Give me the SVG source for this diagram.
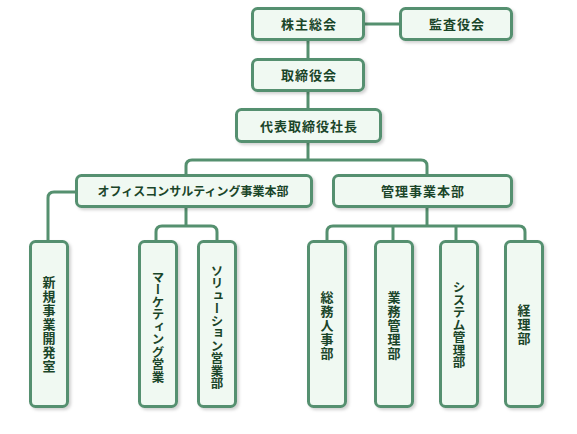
<svg xmlns="http://www.w3.org/2000/svg" width="577" height="434" viewBox="0 0 577 434">
<defs>
<filter id="sh" x="-20%" y="-20%" width="140%" height="140%">
<feDropShadow dx="2" dy="2" stdDeviation="1.5" flood-color="#000" flood-opacity="0.18"/>
</filter>
<style>
.box{fill:#f0f9f2;stroke:#55906f;stroke-width:3;filter:url(#sh)}
.ln{fill:none;stroke:#55906f;stroke-width:3}
.t{font-family:"Noto Sans CJK JP","Noto Sans CJK SC",sans-serif;font-size:13px;font-weight:bold;fill:#1a4529;text-anchor:middle;letter-spacing:1px}
.v{writing-mode:vertical-rl;letter-spacing:1px}
.vk{writing-mode:vertical-rl;letter-spacing:0px;font-size:12.5px}
</style>
</defs>
<rect width="577" height="434" fill="#fff"/>
<g id="connectors">
<path class="ln" d="M365,24 H399"/>
<path class="ln" d="M308,41 V58"/>
<path class="ln" d="M308,92 V108"/>
<path class="ln" d="M308,143 V160"/>
<path class="ln" d="M186,175 V166 Q186,160 192,160 H421 Q427,160 427,166 V175"/>
<path class="ln" d="M76,192 H54 Q48,192 48,198 V241"/>
<path class="ln" d="M186,207 V226"/>
<path class="ln" d="M156,241 V232 Q156,226 162,226 H211 Q217,226 217,232 V241"/>
<path class="ln" d="M427,207 V226"/>
<path class="ln" d="M327,241 V232 Q327,226 333,226 H519 Q525,226 525,232 V241"/>
<path class="ln" d="M393,226 V241"/>
<path class="ln" d="M456,226 V241"/>
</g>
<g id="n1"><rect class="box" x="252.5" y="8.5" width="111" height="31" rx="5"/><text class="t" x="309" y="29">株主総会</text></g>
<g id="n2"><rect class="box" x="400.5" y="8.5" width="111" height="31" rx="5"/><text class="t" x="457" y="29">監査役会</text></g>
<g id="n3"><rect class="box" x="252.5" y="59.5" width="111" height="31" rx="5"/><text class="t" x="309" y="80">取締役会</text></g>
<g id="n4"><rect class="box" x="236.5" y="109.5" width="144" height="32" rx="5"/><text class="t" x="309" y="130.5">代表取締役社長</text></g>
<g id="n5"><rect class="box" x="76.5" y="175.5" width="235" height="31" rx="5"/><text class="t" x="193" y="195.5" style="letter-spacing:0;font-size:12px">オフィスコンサルティング事業本部</text></g>
<g id="n6"><rect class="box" x="333.5" y="175.5" width="178" height="31" rx="5"/><text class="t" x="423" y="196">管理事業本部</text></g>
<g id="n7"><rect class="box" x="30.5" y="241.5" width="37" height="165" rx="5"/><text class="t v" x="49" y="325">新規事業開発室</text></g>
<g id="n8"><rect class="box" x="139.5" y="241.5" width="37" height="165" rx="5"/><text class="t vk" x="158" y="327">マーケティング営業</text></g>
<g id="n9"><rect class="box" x="198.5" y="241.5" width="37" height="165" rx="5"/><text class="t vk" x="217" y="327">ソリューション営業部</text></g>
<g id="n10"><rect class="box" x="308.5" y="241.5" width="37" height="165" rx="5"/><text class="t v" x="327" y="326">総務人事部</text></g>
<g id="n11"><rect class="box" x="375.5" y="241.5" width="37" height="165" rx="5"/><text class="t v" x="394" y="326">業務管理部</text></g>
<g id="n12"><rect class="box" x="440.5" y="241.5" width="37" height="165" rx="5"/><text class="t vk" x="459" y="325">システム管理部</text></g>
<g id="n13"><rect class="box" x="505.5" y="241.5" width="37" height="165" rx="5"/><text class="t v" x="524" y="325">経理部</text></g>
</svg>
